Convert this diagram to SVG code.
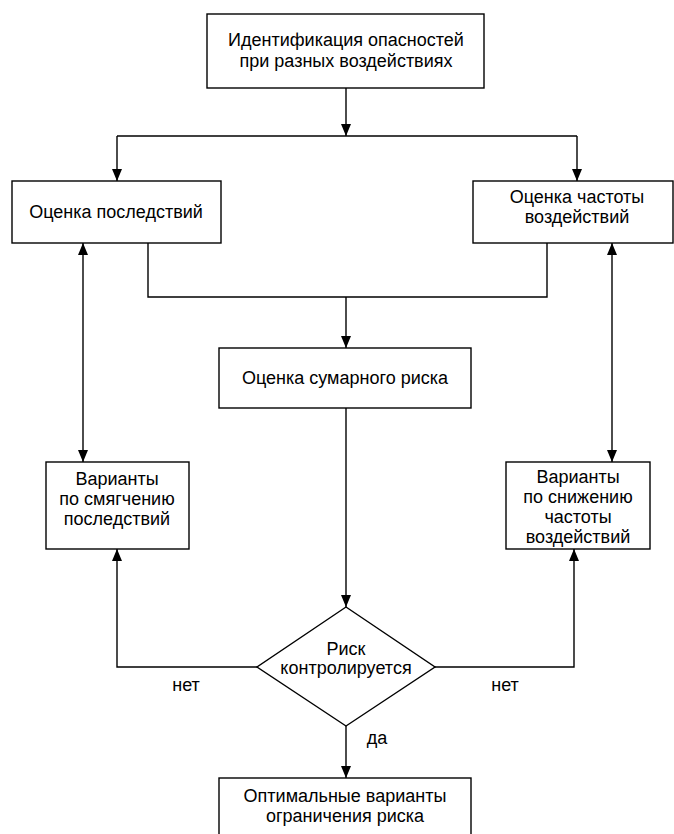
<svg xmlns="http://www.w3.org/2000/svg" width="674" height="834" viewBox="0 0 674 834">
<style>
.box{fill:#fff;stroke:#000;stroke-width:1.4}
.t{font-family:"Liberation Sans",Arial,sans-serif;font-size:18px;fill:#000;text-anchor:middle}
.c{fill:none;stroke:#000;stroke-width:1.4}
</style>
<defs>
<marker id="ah" viewBox="0 0 12 10" refX="12" refY="5" markerWidth="12" markerHeight="10" markerUnits="userSpaceOnUse" orient="auto-start-reverse">
<path d="M0 0L12 5L0 10Z" fill="#000"/>
</marker>
</defs>
<rect width="674" height="834" fill="#fff"/>
<g id="connectors">
<path class="c" d="M346 88V136" marker-end="url(#ah)"/>
<path class="c" d="M117 136H577"/>
<path class="c" d="M117 136V181" marker-end="url(#ah)"/>
<path class="c" d="M577 136V181" marker-end="url(#ah)"/>
<path class="c" d="M148 243V297H547V243"/>
<path class="c" d="M346 297V348" marker-end="url(#ah)"/>
<path class="c" d="M83 243V462" marker-start="url(#ah)" marker-end="url(#ah)"/>
<path class="c" d="M612 243V462" marker-start="url(#ah)" marker-end="url(#ah)"/>
<path class="c" d="M346 408V607" marker-end="url(#ah)"/>
<path class="c" d="M257 667H117V549" marker-end="url(#ah)"/>
<path class="c" d="M435 667H574V549" marker-end="url(#ah)"/>
<path class="c" d="M346 726V778" marker-end="url(#ah)"/>
</g>
<g id="n1">
<rect class="box" x="207" y="14" width="277" height="74"/>
<text class="t" x="346" y="46">Идентификация опасностей</text>
<text class="t" x="346" y="67">при разных воздействиях</text>
</g>
<g id="n2">
<rect class="box" x="12" y="181" width="209" height="62"/>
<text class="t" x="116" y="218">Оценка последствий</text>
</g>
<g id="n3">
<rect class="box" x="473" y="181" width="200" height="62"/>
<text class="t" x="577" y="203">Оценка частоты</text>
<text class="t" x="577" y="223">воздействий</text>
</g>
<g id="n4">
<rect class="box" x="219" y="348" width="252" height="60"/>
<text class="t" x="345" y="384">Оценка сумарного риска</text>
</g>
<g id="n5">
<rect class="box" x="46" y="462" width="143" height="87"/>
<text class="t" x="117" y="485">Варианты</text>
<text class="t" x="117" y="505">по смягчению</text>
<text class="t" x="117" y="525">последствий</text>
</g>
<g id="n6">
<rect class="box" x="506" y="462" width="144" height="87"/>
<text class="t" x="578" y="483">Варианты</text>
<text class="t" x="578" y="503">по снижению</text>
<text class="t" x="578" y="523">частоты</text>
<text class="t" x="578" y="543">воздействий</text>
</g>
<g id="n7">
<polygon class="box" points="346,607 435,667 346,726 257,667"/>
<text class="t" x="346" y="655">Риск</text>
<text class="t" x="346" y="674">контролируется</text>
</g>
<g id="n8">
<rect class="box" x="219" y="778" width="252" height="70"/>
<text class="t" x="345" y="802">Оптимальные варианты</text>
<text class="t" x="345" y="822">ограничения риска</text>
</g>
<g id="labels">
<text class="t" x="186" y="691">нет</text>
<text class="t" x="505" y="691">нет</text>
<text class="t" x="377" y="744">да</text>
</g>
</svg>
